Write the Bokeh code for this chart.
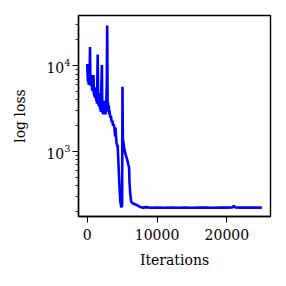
from bokeh.plotting import figure
from bokeh.models import Range1d, FixedTicker
from bokeh.embed import file_html
from bokeh.resources import INLINE

iterations = [0, 50, 100, 150, 200, 250, 300, 350, 400, 450, 500, 550, 600, 650, 700, 750,
              800, 850, 900, 950, 1000, 1050, 1100, 1150, 1200, 1250, 1300, 1350, 1400, 1500,
              1550, 1600, 1650, 1700, 1750, 1800, 1850, 1900, 1950, 2000, 2100, 2150, 2200,
              2250, 2300, 2350, 2400, 2450, 2500, 2550, 2600, 2700, 2800, 2860, 2920, 3000,
              3050, 3100, 3150, 3200, 3300, 3400, 3500, 3600, 3700, 3800, 3900, 4000, 4050,
              4100, 4200, 4300, 4350, 4450, 4550, 4650, 4750, 4850, 4950, 5000, 5050, 5100,
              5200, 5300, 5400, 5500, 5700, 5900, 6000, 6050, 6150, 6300, 6500, 7000, 7500,
              8000, 8500, 9000, 10000, 11000, 12000, 13000, 14000, 15000, 16000, 17000, 18000,
              19000, 20000, 20800, 21000, 21200, 22000, 23000, 24000, 25000]
loss = [10500, 8000, 6500, 7200, 6200, 6000, 6800, 9000, 16500, 7000, 6200, 5800, 6000, 7800,
        5200, 6500, 5000, 5600, 7800, 4800, 4500, 5600, 4200, 5200, 4300, 4800, 3900, 4600,
        3600, 13500, 4800, 3800, 3400, 4200, 3300, 4800, 3100, 3600, 2900, 5000, 10200, 3600,
        2800, 3200, 2700, 3900, 3000, 3300, 2900, 3400, 2700, 3200, 6000, 29500, 3800, 3600,
        2900, 3400, 2700, 3000, 2500, 2600, 2200, 2300, 2000, 2100, 1850, 1500, 1900, 1600,
        1250, 1150, 1200, 800, 520, 350, 260, 230, 225, 240, 5700, 1400, 1250, 1100, 1000,
        920, 820, 700, 650, 450, 330, 260, 250, 240, 228, 222, 225, 221, 223, 221, 222, 221,
        222, 221, 223, 222, 221, 222, 222, 223, 232, 223, 222, 222, 222, 222]

x_ticks = [0, 10000, 20000]
y_ticks = [1000, 10000]
y_minor = [200, 300, 400, 500, 600, 700, 800, 900, 2000, 3000, 4000, 5000, 6000, 7000,
           8000, 9000, 20000, 30000]

FONT = "DejaVu Serif"

p = figure(width=286, height=286, y_axis_type="log", output_backend="svg",
           toolbar_location=None, x_range=Range1d(-1250, 26250),
           y_range=Range1d(175, 38500),
           min_border_left=78, min_border_right=16, min_border_top=15, min_border_bottom=70)

p.line(iterations, loss, line_color="#0000ff", line_width=2.6)

p.grid.visible = False
p.outline_line_color = "black"
p.outline_line_width = 1.4
p.background_fill_color = "white"
p.border_fill_color = "white"

p.xaxis.ticker = FixedTicker(ticks=x_ticks)
p.yaxis.ticker = FixedTicker(ticks=y_ticks, minor_ticks=y_minor)

for ax in (p.xaxis[0], p.yaxis[0]):
    ax.axis_line_color = "black"
    ax.axis_line_width = 1.4
    ax.major_tick_line_color = "black"
    ax.minor_tick_line_color = "black"
    ax.major_tick_line_width = 1.0
    ax.minor_tick_line_width = 0.8
    ax.major_tick_in = 0
    ax.major_tick_out = 6
    ax.minor_tick_in = 0
    ax.minor_tick_out = 3
    ax.major_label_text_font = FONT
    ax.major_label_text_font_size = "14px"
    ax.major_label_text_color = "black"
    ax.axis_label_text_font = FONT
    ax.axis_label_text_font_size = "14px"
    ax.axis_label_text_font_style = "normal"
    ax.axis_label_text_color = "black"

p.xaxis.axis_label = "Iterations"
p.yaxis.axis_label = "log loss"
p.xaxis.major_label_standoff = 6
p.yaxis.major_label_standoff = 2
p.xaxis.axis_label_standoff = 9
p.yaxis.axis_label_standoff = 15

open("out.html", "w").write(file_html(p, INLINE))
